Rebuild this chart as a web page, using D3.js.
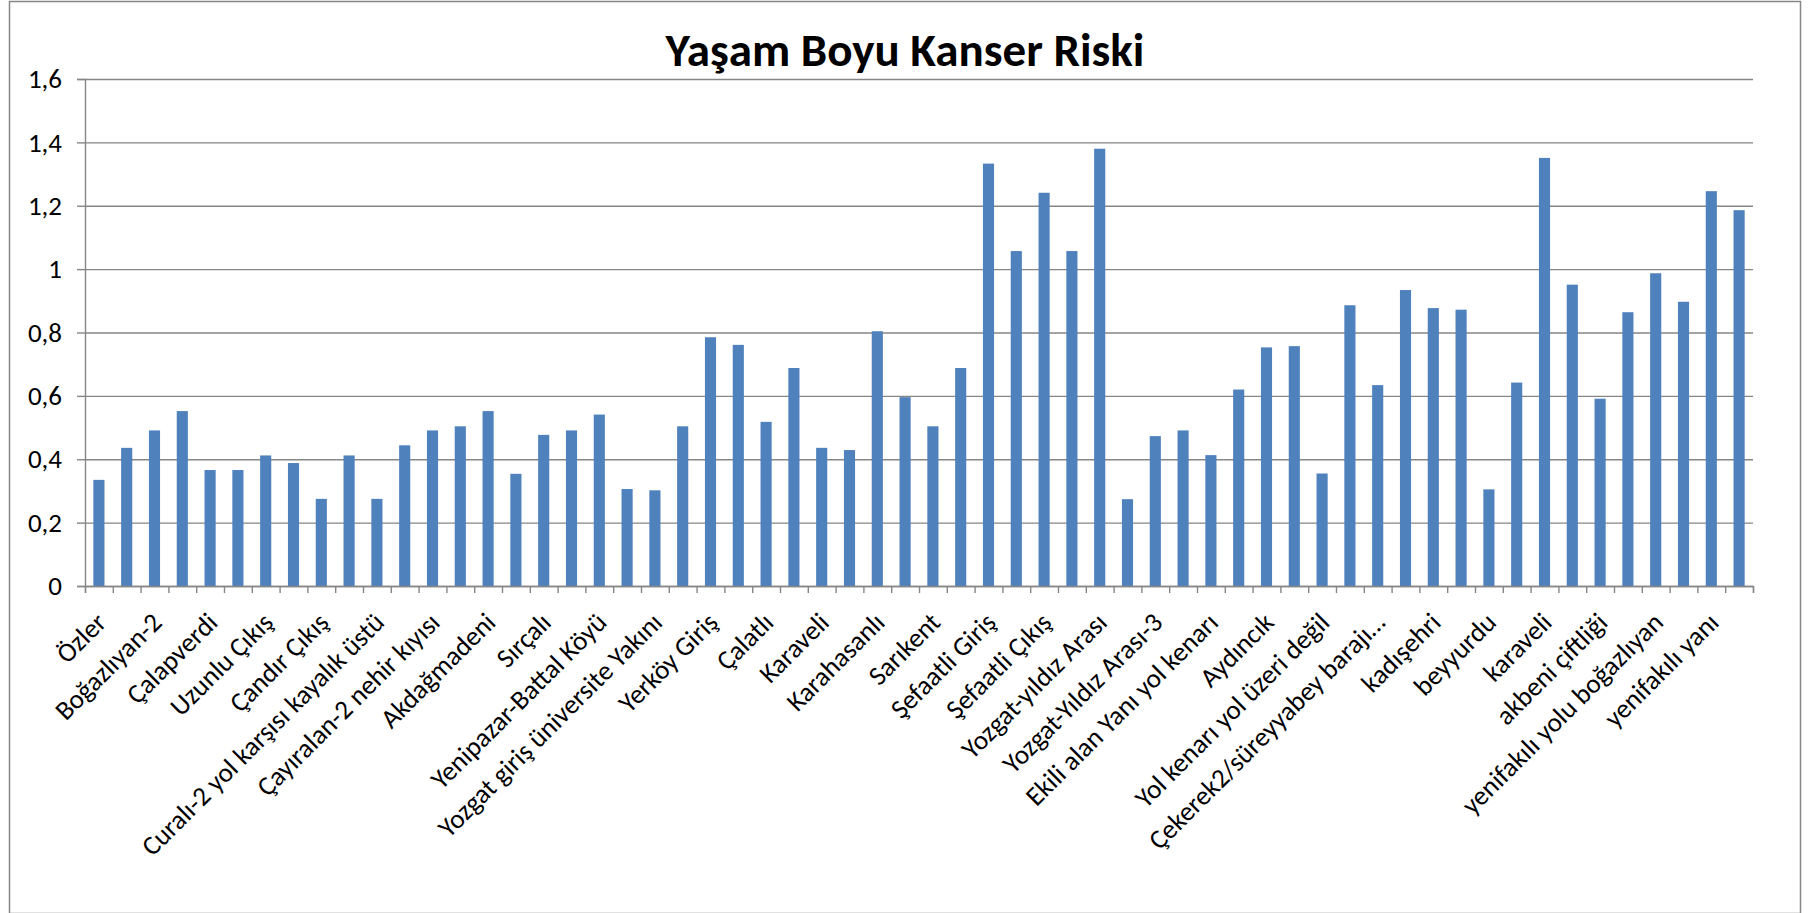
<!DOCTYPE html>
<html>
<head>
<meta charset="utf-8">
<script src="https://cdn.jsdelivr.net/npm/d3@7"></script>
<style>
  body { margin: 0; background: #fff; }
  text { font-family: Carlito, Calibri, Lato, sans-serif; }
</style>
</head>
<body>
<script>
// values, one per site (60 sites, every other one is labelled)
const risk = [
  0.335, 0.436, 0.491, 0.552, 0.366, 0.366, 0.412, 0.388, 0.275, 0.412,
  0.275, 0.444, 0.491, 0.504, 0.552, 0.354, 0.477, 0.491, 0.541, 0.306,
  0.302, 0.504, 0.785, 0.761, 0.518, 0.688, 0.436, 0.429, 0.804, 0.596,
  0.504, 0.688, 1.333, 1.057, 1.241, 1.057, 1.380, 0.274, 0.473, 0.491,
  0.413, 0.620, 0.753, 0.757, 0.355, 0.886, 0.634, 0.934, 0.877, 0.872,
  0.305, 0.642, 1.351, 0.951, 0.591, 0.864, 0.987, 0.897, 1.246, 1.186
]

// labels that are visible on the axis (sites 1, 3, 5, ...)
const shownLabels = [
  "Özler", "Boğazlıyan-2", "Çalapverdi", "Uzunlu Çıkış", "Çandır Çıkış",
  "Curalı-2 yol karşısı kayalık üstü", "Çayıralan-2 nehir kıyısı", "Akdağmadeni",
  "Sırçalı", "Yenipazar-Battal Köyü", "Yozgat giriş üniversite Yakını",
  "Yerköy Giriş", "Çalatlı", "Karaveli", "Karahasanlı", "Sarıkent",
  "Şefaatli Giriş", "Şefaatli Çıkış", "Yozgat-yıldız Arası", "Yozgat-Yıldız Arası-3",
  "Ekili alan Yanı yol kenarı", "Aydıncık", "Yol kenarı yol üzeri değil",
  "Çekerek2/süreyyabey barajı…", "kadışehri", "beyyurdu", "karaveli",
  "akbeni çiftliği", "yenifakılı yolu boğazlıyan", "yenifakılı yanı"
]

const yTicks = [0, 0.2, 0.4, 0.6, 0.8, 1, 1.2, 1.4, 1.6]
const title = "Yaşam Boyu Kanser Riski"

const W = 1816, H = 913
const plot = { left: 85, right: 1753, top: 79, bottom: 586 }
const grey = "#868686"
const font = "Carlito, Calibri, Lato, sans-serif"

const svg = d3.select("body").append("svg")
    .attr("width", W)
    .attr("height", H)

// chart frame
svg.append("rect")
    .attr("x", 9.5)
    .attr("y", 1.5)
    .attr("width", 1791)
    .attr("height", 912)
    .attr("fill", "none")
    .attr("stroke", grey)
    .attr("stroke-width", 1.5)

svg.append("text")
    .attr("x", 905)
    .attr("y", 66)
    .attr("text-anchor", "middle")
    .style("font-size", "47px")
    .attr("font-weight", "bold")
    .text(title)

const x = d3.scaleBand()
    .domain(d3.range(risk.length))
    .range([plot.left, plot.right])
    .paddingInner(0.6)
    .paddingOuter(0.3)

const edges = d3.scaleLinear()
    .domain([0, risk.length])
    .range([plot.left, plot.right])

const y = d3.scaleLinear()
    .domain([0, 1.6])
    .range([plot.bottom, plot.top])

// gridlines
svg.append("g")
    .attr("transform", `translate(${plot.left},0)`)
    .call(d3.axisLeft(y).tickValues(yTicks).tickSize(-(plot.right - plot.left)).tickFormat(""))
    .call(g => g.select(".domain").remove())
    .call(g => g.selectAll("line").attr("stroke", grey).attr("stroke-width", 1.4))

// y axis
svg.append("g")
    .attr("transform", `translate(${plot.left},0)`)
    .call(d3.axisLeft(y).tickValues(yTicks).tickSize(8).tickPadding(15)
        .tickFormat(d => String(d).replace(".", ",")))
    .call(g => g.select(".domain").attr("stroke", grey).attr("stroke-width", 1.4))
    .call(g => g.selectAll("line").attr("stroke", grey).attr("stroke-width", 1.4))
    .call(g => g.selectAll("text")
        .attr("fill", "#000")
        .style("font-size", "27px")
        .style("font-family", font))

// bars
svg.append("g")
    .selectAll("rect")
    .data(risk)
    .enter()
    .append("rect")
        .attr("x", (d, i) => x(i))
        .attr("y", d => y(d))
        .attr("width", x.bandwidth())
        .attr("height", d => y(0) - y(d))
        .attr("fill", "#4f81bd")

// x axis tick marks sit between categories
svg.append("g")
    .attr("transform", `translate(0,${plot.bottom})`)
    .call(d3.axisBottom(edges).tickValues(d3.range(risk.length + 1)).tickSize(7).tickFormat(""))
    .call(g => g.select(".domain").attr("stroke", grey).attr("stroke-width", 1.4))
    .call(g => g.selectAll("line").attr("stroke", grey).attr("stroke-width", 1.4))

// category labels, every other one
svg.append("g")
    .attr("transform", `translate(0,${plot.bottom})`)
    .call(d3.axisBottom(x).tickSize(0)
        .tickFormat(i => i % 2 === 0 ? shownLabels[i / 2] : ""))
    .call(g => g.select(".domain").remove())
    .call(g => g.selectAll("text")
        .attr("fill", "#000")
        .style("font-size", "27px")
        .style("font-family", font)
        .attr("text-anchor", "end")
        .attr("dy", null)
        .attr("y", 0)
        .attr("transform", "translate(9,38) rotate(-45)"))
</script>
</body>
</html>
